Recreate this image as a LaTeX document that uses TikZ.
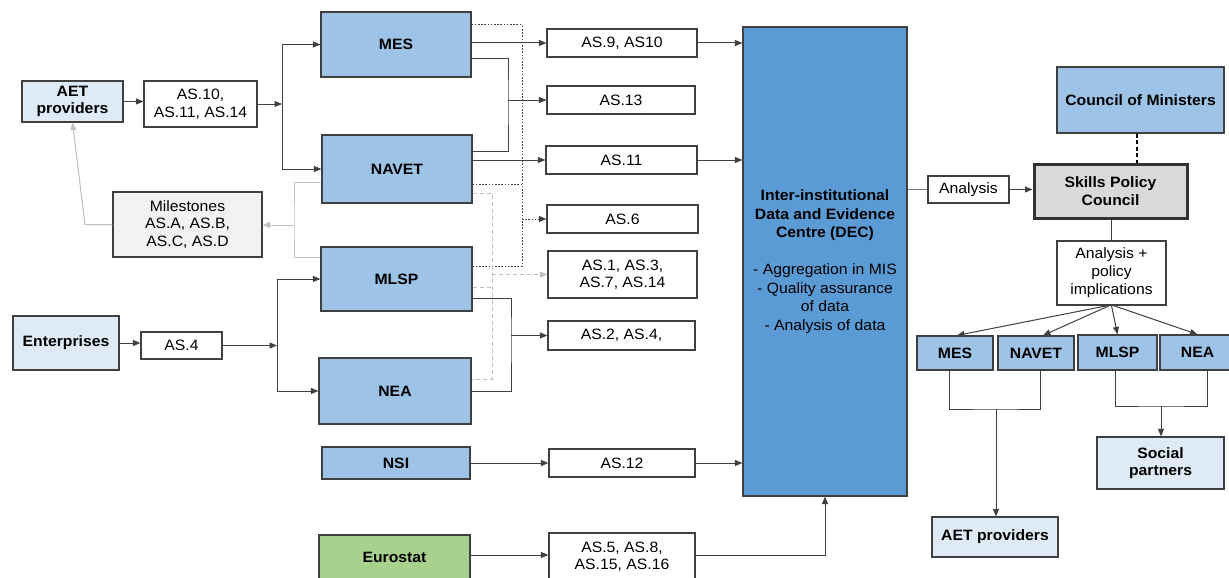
\documentclass[tikz,border=0pt]{standalone}
\usepackage{fontspec}
\setmainfont{Liberation Sans}[FakeStretch=1.05]
\usetikzlibrary{arrows.meta}

\definecolor{midblue}{HTML}{9DC3E6}
\definecolor{decblue}{HTML}{5B9BD5}
\definecolor{paleblue}{HTML}{DEEBF7}
\definecolor{palegreen}{HTML}{A9D18E}
\definecolor{spcgray}{HTML}{D9D9D9}
\definecolor{msgray}{HTML}{F2F2F2}
\definecolor{edge}{HTML}{404040}
\definecolor{lightline}{HTML}{BFBFBF}

\tikzset{
  txt/.style={font=\fontsize{15}{17.5}\selectfont},
  box/.style={draw=edge, line width=1.2pt, inner sep=0pt, align=center, txt, text=black},
  plain/.style={box, fill=white},
  org/.style={box, fill=midblue, font=\fontsize{15}{17.5}\selectfont\bfseries},
  actor/.style={box, fill=paleblue, font=\fontsize{15}{17.5}\selectfont\bfseries},
  tip/.style={-{Triangle[length=7.5pt,width=6pt]}},
  ln/.style={draw=edge, line width=1pt},
  arr/.style={ln, tip},
  dotln/.style={draw=edge, line width=1pt, dash pattern=on 1.6pt off 1.6pt},
  dotarr/.style={dotln, tip},
  lgln/.style={draw=lightline, line width=1pt},
  lgarr/.style={lgln, tip},
  lgdash/.style={draw=lightline, line width=1pt, dash pattern=on 4pt off 3pt},
  lgdasharr/.style={lgdash, tip},
}

\begin{document}
\begin{tikzpicture}[x=1pt, y=-1pt]
\useasboundingbox (0,0) rectangle (1229,578);
\fill[white] (0,0) rectangle (1229,578);

% ---------- left-hand sources ----------
\node[actor, minimum width=101, minimum height=41] (aetL) at (72.5,101.5) {AET\\providers};
\node[plain, minimum width=113, minimum height=46] (as10) at (200.5,104) {AS.10,\\AS.11, AS.14};
\node[box, fill=msgray, minimum width=149, minimum height=65] (miles) at (187.5,224.5) {Milestones\\AS.A, AS.B,\\AS.C, AS.D};
\node[actor, minimum width=106, minimum height=54] (ent) at (66,343) {Enterprises};
\node[plain, minimum width=81, minimum height=27] (as4) at (181.5,345.5) {AS.4};

% ---------- institutions ----------
\node[org, minimum width=150, minimum height=65] (mes) at (396,44.5) {MES};
\node[org, minimum width=150, minimum height=68] (navet) at (397,169) {NAVET};
\node[org, minimum width=151, minimum height=64] (mlsp) at (396.5,279) {MLSP};
\node[org, minimum width=152, minimum height=66] (nea) at (395,391) {NEA};
\node[org, minimum width=148, minimum height=32] (nsi) at (396,463) {NSI};
\node[box, fill=palegreen, font=\fontsize{15}{17.5}\selectfont\bfseries, minimum width=151, minimum height=45] (euro) at (394.5,557.5) {Eurostat};

% ---------- data sets ----------
\node[plain, minimum width=150, minimum height=28] (as9) at (622,43) {AS.9, AS10};
\node[plain, minimum width=148, minimum height=28] (as13) at (621,100) {AS.13};
\node[plain, minimum width=151, minimum height=28] (as11) at (621.5,160) {AS.11};
\node[plain, minimum width=151, minimum height=28] (as6) at (622.5,219) {AS.6};
\node[plain, minimum width=149, minimum height=47] (as1) at (622.5,274.5) {AS.1, AS.3,\\AS.7, AS.14};
\node[plain, minimum width=147, minimum height=29] (as2) at (621.5,335.5) {AS.2, AS.4,};
\node[plain, minimum width=146, minimum height=28] (as12) at (622,463) {AS.12};
\node[plain, minimum width=146, minimum height=47] (as5) at (622,556.5) {AS.5, AS.8,\\AS.15, AS.16};

% ---------- data and evidence centre ----------
\node[box, fill=decblue, minimum width=164, minimum height=469, font=\fontsize{15}{18.5}\selectfont] (dec) at (825,261.5)
  {\textbf{Inter-institutional}\\\textbf{Data and Evidence}\\\textbf{Centre (DEC)}\\[18.5pt]- Aggregation in MIS\\- Quality assurance\\of data\\- Analysis of data};

% ---------- policy side ----------
\node[plain, minimum width=81, minimum height=27] (analysis) at (968.5,189.5) {Analysis};
\node[box, fill=spcgray, draw=black!80, line width=3pt, font=\fontsize{15}{17.5}\selectfont\bfseries, minimum width=153, minimum height=54] (spc) at (1110.5,191) {Skills Policy\\Council};
\node[org, minimum width=167, minimum height=66] (com) at (1140.5,100) {Council of Ministers};
\node[plain, minimum width=109, minimum height=64, font=\fontsize{15}{18}\selectfont] (api) at (1111.5,273) {Analysis +\\policy\\implications};
\node[org, minimum width=76, minimum height=34] (mes2) at (955,353) {MES};
\node[org, minimum width=76, minimum height=34] (navet2) at (1036,353) {NAVET};
\node[org, minimum width=79, minimum height=35] (mlsp2) at (1117.5,352.5) {MLSP};
\node[org, minimum width=75, minimum height=35] (nea2) at (1197.5,352.5) {NEA};
\node[actor, minimum width=126, minimum height=40] (aetR) at (995,537) {AET providers};
\node[actor, minimum width=127, minimum height=52] (social) at (1160.5,463) {Social\\partners};

% ---------- junction points ----------
\coordinate (b1) at (282,104);
\coordinate (b2) at (277,345.5);
\coordinate (gm) at (294,225);
\coordinate (j13) at (508,100);
\coordinate (j6) at (522,219);
\coordinate (j1) at (492,274.5);
\coordinate (j2) at (511,335.5);
\coordinate (k1) at (996,409);
\coordinate (k2) at (1161,406);

% ---------- left-hand flows ----------
\draw[arr] (aetL.east) -- (aetL.east -| as10.west);
\draw[arr] (as10.east) -- (b1);
\draw[arr] (b1) |- (mes.west);
\draw[arr] (b1) |- (navet.west);
\draw[arr] (ent.east) -- (ent.east -| as4.west);
\draw[arr] (as4.east) -- (b2);
\draw[arr] (b2) |- (mlsp.west);
\draw[arr] (b2) |- (nea.west);

% milestones feedback
\draw[lgln] (navet.west |- 0,182) -| (gm) |- (mlsp.west |- 0,257);
\draw[lgarr] (gm) -- (gm -| miles.east);
\draw[lgarr] (miles.west) -- (85,224.5) -- (aetL.south);

% ---------- institutions to data sets ----------
\draw[arr] (mes.east |- as9.west) -- (as9.west);
\draw[ln] (mes.east |- 0,59) -| (j13) |- (navet.east |- 0,151);
\draw[arr] (j13) -- (as13.west);
\draw[arr] (navet.east |- as11.west) -- (as11.west);
\draw[dotln] (mes.east |- 0,25) -| (j6) |- (mlsp.east |- 0,266);
\draw[dotln] (navet.east |- 0,184) -- (j6 |- 0,184);
\draw[dotarr] (j6) -- (as6.west);
\draw[lgdash] (navet.east |- 0,193) -| (j1) |- (nea.east |- 0,379);
\draw[lgdash] (mlsp.east |- 0,287) -- (j1 |- 0,287);
\draw[lgdasharr] (j1) -- (as1.west);
\draw[ln] (mlsp.east |- 0,298) -| (j2) |- (nea.east);
\draw[arr] (j2) -- (as2.west);
\draw[arr] (nsi.east) -- (as12.west);
\draw[arr] (euro.east |- 0,555) -- (as5.west |- 0,555);

% ---------- data sets to DEC ----------
\draw[arr] (as9.east) -- (as9.east -| dec.west);
\draw[arr] (as11.east) -- (as11.east -| dec.west);
\draw[arr] (as12.east) -- (as12.east -| dec.west);
\draw[arr] (as5.east |- 0,555) -| (dec.south);

% ---------- policy side ----------
\draw[lgln, draw=edge!70] (dec.east |- analysis.west) -- (analysis.west);
\draw[arr] (analysis.east) -- (analysis.east -| spc.west);
\draw[draw=black, line width=2pt, dash pattern=on 4pt off 2.5pt] (com.south -| 1137,0) -- (spc.north -| 1137,0);
\draw[ln] (spc.south -| api.north) -- (api.north);
\draw[arr] ([xshift=-4pt]api.south) -- ([xshift=2pt]mes2.north);
\draw[arr] ([xshift=-2pt]api.south) -- ([xshift=7pt]navet2.north);
\draw[arr] (api.south) -- (mlsp2.north);
\draw[arr] ([xshift=2pt]api.south) -- (nea2.north);
\draw[ln] ([xshift=-6pt]mes2.south) |- (k1) -| ([xshift=4pt]navet2.south);
\draw[arr] (k1) -- (k1 |- aetR.north);
\draw[ln] ([xshift=-2.5pt]mlsp2.south) |- (k2) -| ([xshift=9.5pt]nea2.south);
\draw[arr] (k2) -- (k2 |- social.north);
\end{tikzpicture}
\end{document}
